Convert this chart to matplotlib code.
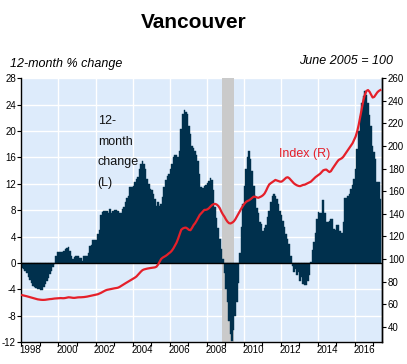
import matplotlib
matplotlib.use('Agg')
import matplotlib.pyplot as plt
import numpy as np

plt.rcParams['font.family'] = ['Liberation Sans', 'DejaVu Sans']

# ---------------- data (monthly, starting Jan 1998) ----------------
start_year = 1998
change_12m = [
    -0.7, -0.9, -1.2, -1.6, -2.1, -2.6, -3.0, -3.5, -3.7, -3.8, -3.9, -4.0,
    -4.1, -4.1, -3.7, -3.2, -2.8, -2.3, -1.7, -1.2, -0.6, -0.2, 1.1, 1.6,
    1.7, 1.7, 1.7, 1.8, 2.1, 2.2, 2.4, 1.8, 1.0, 0.6, 0.9, 1.0,
    1.0, 0.7, 0.7, 0.35, 1.1, 1.1, 1.1, 1.5, 2.6, 2.7, 3.5, 3.5,
    3.5, 4.4, 5.0, 7.2, 7.7, 7.9, 7.9, 7.8, 7.6, 8.1, 7.5, 7.8,
    8.0, 8.0, 7.8, 7.6, 7.6, 8.2, 8.5, 9.2, 9.8, 10.1, 11.5, 11.5,
    11.7, 12.2, 12.7, 13.0, 14.3, 15.0, 15.5, 15.0, 14.2, 12.8, 12.0, 11.2,
    11.0, 10.5, 9.7, 8.7, 9.3, 8.7, 9.0, 10.0, 11.5, 12.5, 13.2, 13.5,
    14.2, 15.0, 16.0, 16.3, 16.3, 16.0, 17.0, 20.3, 22.6, 23.2, 22.9, 22.6,
    20.8, 19.5, 17.8, 17.5, 17.0, 16.4, 15.5, 13.5, 11.5, 11.3, 11.6,
    11.8, 12.1, 12.4, 12.9, 12.6, 11.0, 8.5, 6.8, 5.3, 3.7, 2.1, 0.6,
    -1.5, -3.9, -6.0, -8.8, -10.8, -11.8, -10.2, -8.0, -6.0, -3.0, 1.5, 5.5,
    9.0, 11.7, 14.2, 16.0, 16.9, 15.8, 14.0, 11.7, 10.2, 8.4, 7.5, 6.2,
    5.9, 4.9, 5.3, 5.7, 6.9, 7.9, 9.2, 10.1, 10.5, 10.2, 9.7, 8.9,
    7.9, 7.2, 6.4, 5.4, 4.4, 3.6, 2.9, 1.1, -0.4, -1.4, -0.9, -1.9,
    -1.4, -2.7, -2.2, -3.2, -3.4, -3.4, -2.7, -1.9, 0.1, 1.9, 3.1, 4.6,
    6.7, 7.7, 7.5, 7.6, 9.5, 7.6, 6.2, 6.2, 6.4, 6.6, 6.6, 5.2,
    5.0, 5.7, 5.7, 4.9, 4.6, 6.2, 9.9, 9.9, 10.2, 10.5, 11.2, 11.8,
    12.7, 14.3, 17.3, 20.0, 22.3, 24.3, 25.3, 26.0, 25.5, 24.3, 22.4, 20.8,
    17.8, 16.8, 15.8, 12.2, 12.2, 9.7,
]
index_r = [
    68.0, 67.7, 67.3, 67.0, 66.6, 66.2, 65.8, 65.4, 65.0, 64.6, 64.3, 64.1,
    63.9, 63.8, 63.8, 63.9, 64.1, 64.3, 64.5, 64.6, 64.8, 65.0, 65.1, 65.2,
    65.3, 65.4, 65.3, 65.3, 65.5, 65.8, 66.1, 66.0, 65.8, 65.6, 65.6, 65.8,
    66.0, 66.1, 66.1, 66.2, 66.3, 66.5, 66.7, 67.0, 67.3, 67.6, 67.9, 68.2,
    68.4, 68.8, 69.4, 70.0, 70.8, 71.5, 72.2, 72.7, 73.0, 73.3, 73.6, 73.9,
    74.1, 74.3, 74.6, 75.2, 76.0, 76.9, 77.8, 78.6, 79.4, 80.2, 81.0, 81.8,
    82.5, 83.5, 84.5, 86.0, 87.4, 89.0, 90.2, 90.8, 91.2, 91.5, 91.8, 92.0,
    92.2, 92.4, 92.6, 93.2, 95.0, 97.5, 100.0, 101.2, 102.0, 102.8, 103.8, 105.0,
    106.0, 107.5, 109.5, 112.0, 114.5, 118.0, 122.0, 125.8, 127.0, 127.6, 127.8, 127.0,
    125.8, 125.5, 127.5, 130.0, 131.7, 134.0, 136.5, 139.0, 140.5, 142.0, 143.5,
    143.5, 144.0, 145.0, 146.5, 147.8, 148.6, 148.8, 148.2, 147.0, 145.0, 142.0, 139.5,
    137.5, 135.0, 133.0, 131.7, 131.5, 132.2, 133.2, 135.0, 137.5, 140.0, 142.5, 144.8,
    147.0, 149.0, 150.5, 151.4, 152.0, 153.0, 154.2, 155.2, 155.0, 154.5, 154.2, 154.8,
    155.5, 156.5, 158.0, 160.5, 163.5, 166.0, 167.1, 168.0, 169.0, 170.0, 169.5, 169.0,
    168.5, 168.5, 169.5, 170.8, 172.0, 172.4, 171.5, 170.0, 168.5, 167.0, 166.0, 165.2,
    164.7, 164.5, 165.0, 165.6, 165.8, 166.5, 167.2, 168.0, 168.5, 169.8, 171.0, 172.5,
    173.5, 174.4, 175.5, 177.0, 178.5, 179.0, 179.2, 178.0, 177.0, 177.8, 180.0, 182.0,
    184.0, 186.0, 187.7, 188.5, 189.2, 190.5, 192.5, 194.5, 196.5, 198.5, 200.5, 202.5,
    205.5, 208.5, 213.0, 219.0, 226.0, 233.5, 240.5, 245.5, 248.8, 249.6, 248.1, 245.5,
    243.0, 243.5, 245.5, 247.5, 248.8, 249.6,
]
recession = (2008.83, 2009.5)
left_ticks = list(range(-12, 29, 4))
right_ticks = list(range(40, 261, 20))
year_ticks = list(range(1998, 2018))
label_years = list(range(1998, 2017, 2))
grid_years = list(range(2000, 2017, 2))

# ---------------- styling ----------------
NAVY = '#00304D'
RED = '#E5202A'
BG = '#DDEBFB'

x = start_year + (np.arange(len(change_12m)) + 0.5) / 12.0

fig = plt.figure(figsize=(4.07, 3.64), dpi=100)
ax = fig.add_axes([0.0526, 0.0604, 0.8867, 0.7245])
ax.set_facecolor(BG)
ax.set_xlim(1998, 2017.48)
ax.set_ylim(-12, 28)

# grid
for yv in left_ticks:
    ax.axhline(yv, color='white', lw=1.0, zorder=0.5)
for gy in grid_years:
    ax.axvline(gy, color='white', lw=1.0, zorder=0.5)

ax.axvspan(recession[0], recession[1], color='#CACACA', lw=0, zorder=1)
ax.bar(x, change_12m, width=1 / 12.0, color=NAVY, edgecolor=NAVY,
       linewidth=0.3, zorder=2)
ax.axhline(0, color='black', lw=1.0, zorder=3)

tick_font = dict(family=['Liberation Sans Narrow', 'Liberation Sans', 'DejaVu Sans'], size=7)

ax.set_yticks(left_ticks)
ax.set_yticklabels([str(t) for t in left_ticks], fontdict=tick_font)
ax.tick_params(axis='y', direction='out', length=3, width=0.8, pad=1)

ax.set_xticks(year_ticks)
ax.set_xticklabels([])
ax.set_xticks([y + 0.5 for y in label_years], minor=True)
ax.set_xticklabels([str(y) for y in label_years], minor=True, fontdict=tick_font)
ax.tick_params(axis='x', which='major', direction='out', length=3, width=0.8)
ax.tick_params(axis='x', which='minor', length=0, pad=2)

for s in ['left', 'right', 'bottom']:
    ax.spines[s].set_color('black')
    ax.spines[s].set_linewidth(1.0)
ax.spines['top'].set_visible(False)

ax2 = ax.twinx()
ax2.set_ylim(26.5, 260)
ax2.plot(x, index_r, color=RED, lw=1.6, zorder=4)
ax2.set_yticks(right_ticks)
ax2.set_yticklabels([str(t) for t in right_ticks], fontdict=tick_font)
ax2.tick_params(axis='y', direction='out', length=3, width=0.8, pad=1)
ax2.spines['top'].set_visible(False)
ax2.spines['right'].set_linewidth(1.0)
ax2.spines['left'].set_visible(False)
ax2.spines['bottom'].set_visible(False)

W, H = 407.0, 364.0
def fx(px):
    return px / W
def fy(py):
    return 1 - py / H

fig.text(fx(194), fy(28.3), 'Vancouver', ha='center', va='baseline',
         fontsize=15, fontweight='bold', color='black')
fig.text(fx(10), fy(66.5), '12-month % change', ha='left', va='baseline',
         fontsize=9, style='italic', color='black')
fig.text(fx(393), fy(63.5), 'June 2005 = 100', ha='right', va='baseline',
         fontsize=9, style='italic', color='black')

for line, base in zip(['12-', 'month', 'change', '(L)'], [124, 144.7, 165.4, 186]):
    fig.text(fx(97.7), fy(base), line, ha='left', va='baseline',
             fontsize=9, color='#111111')
fig.text(fx(279), fy(157.3), 'Index (R)', ha='left', va='baseline',
         fontsize=9, color=RED)

fig.savefig('out.png', dpi=100)
